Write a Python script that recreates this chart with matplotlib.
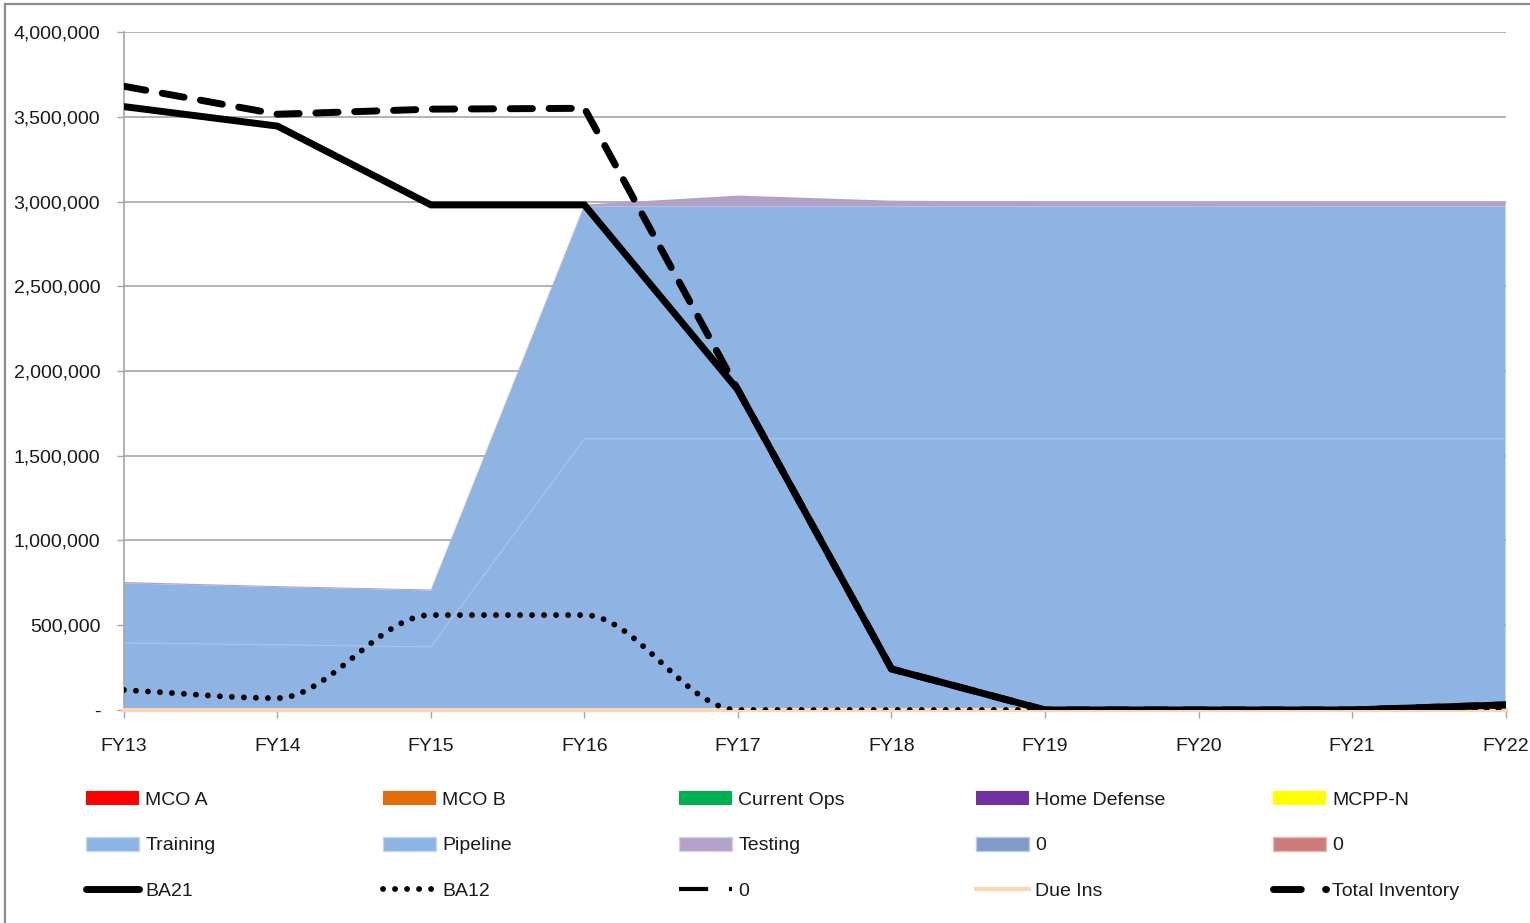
import numpy as np
import matplotlib.pyplot as plt
from matplotlib.path import Path
from matplotlib.patches import PathPatch, Patch
from matplotlib.lines import Line2D
from matplotlib.ticker import FuncFormatter, MultipleLocator

plt.rcParams['font.family'] = ['Liberation Sans', 'DejaVu Sans']

# Data
years = ['FY13', 'FY14', 'FY15', 'FY16', 'FY17', 'FY18', 'FY19', 'FY20', 'FY21', 'FY22']
mco_a = [0, 0, 0, 0, 0, 0, 0, 0, 0, 0]
mco_b = [0, 0, 0, 0, 0, 0, 0, 0, 0, 0]
current_ops = [0, 0, 0, 0, 0, 0, 0, 0, 0, 0]
home_defense = [0, 0, 0, 0, 0, 0, 0, 0, 0, 0]
mcpp_n = [0, 0, 0, 0, 0, 0, 0, 0, 0, 0]
training = [395000, 385000, 372000, 1600000, 1600000, 1600000, 1600000, 1600000, 1600000, 1600000]
pipeline = [352000, 340000, 333000, 1370000, 1370000, 1370000, 1370000, 1370000, 1370000, 1370000]
testing = [8000, 6000, 6000, 12000, 65000, 35000, 30000, 27000, 25000, 25000]
zero_a = [0, 0, 0, 0, 0, 0, 0, 0, 0, 0]
zero_b = [0, 0, 0, 0, 0, 0, 0, 0, 0, 0]
ba21 = [3560000, 3445000, 2980000, 2980000, 1888000, 242000, 0, 0, 0, 30000]
ba12 = [118000, 70000, 560000, 560000, 0, 0, 0, 0, 0, 0]
zero_line = [np.nan] * 10
due_ins = [0, 0, 0, 0, 0, 0, 0, 0, 0, 0]
total_inventory = [3680000, 3515000, 3545000, 3550000, 1888000, 242000, 0, 0, 0, 30000]

area_colors = ['#FF0000', '#E46C0A', '#00B050', '#7030A0', '#FFFF00',
               '#8EB4E3', '#8EB4E3', '#B3A2C7', '#7F9BC9', '#CD7B7B']


def smooth_path(xs, ys):
    # smoothed line as cubic bezier segments, flat at local extremes
    n = len(xs)
    slopes = np.diff(ys) / np.diff(xs)
    tang = np.zeros(n)
    tang[0] = slopes[0]
    tang[-1] = slopes[-1]
    for i in range(1, n - 1):
        if slopes[i - 1] * slopes[i] > 0:
            tang[i] = (slopes[i - 1] + slopes[i]) / 2
    verts = [(xs[0], ys[0])]
    codes = [Path.MOVETO]
    for i in range(n - 1):
        h = (xs[i + 1] - xs[i]) / 3
        verts += [(xs[i] + h, ys[i] + tang[i] * h),
                  (xs[i + 1] - h, ys[i + 1] - tang[i + 1] * h),
                  (xs[i + 1], ys[i + 1])]
        codes += [Path.CURVE4] * 3
    return Path(verts, codes)


x = np.arange(len(years))

fig = plt.figure(figsize=(15.3, 9.23), dpi=100)
ax = fig.add_axes([0.081, 0.2308, 0.903, 0.7345])

ax.stackplot(x, mco_a, mco_b, current_ops, home_defense, mcpp_n,
             training, pipeline, testing, zero_a, zero_b,
             colors=area_colors, linewidth=0, zorder=2)
# faint edge on top of training
ax.plot(x, training, color='#A8C6EC', lw=0.8, zorder=2.1)

ax.plot(x, due_ins, color='#FCD5B5', lw=3, zorder=2.6, clip_on=False)
ax.plot(x, zero_line, color='black', lw=3, linestyle='-.', zorder=3)

ax.add_patch(PathPatch(smooth_path(x.astype(float), np.array(ba12, float)),
                       facecolor='none', edgecolor='black', lw=4.2,
                       linestyle=(0, (0.01, 2.05)), capstyle='round', zorder=4))

ax.plot(x, total_inventory, color='black', lw=5, linestyle=(0, (3.2, 2.4)),
        dash_capstyle='round', zorder=4)
ax.plot(x, ba21, color='black', lw=5, solid_joinstyle='miter', zorder=5)

ax.set_xlim(0, 9)
ax.set_ylim(0, 4000000)
ax.yaxis.set_major_locator(MultipleLocator(500000))
ax.yaxis.set_major_formatter(FuncFormatter(lambda v, p: '-' if v == 0 else f'{v:,.0f}'))
ax.set_xticks(x)
ax.set_xticklabels(years)
ax.grid(axis='y', color='#A6A6A6', lw=1.2, zorder=0.5)
ax.set_axisbelow(True)
for s in ['top', 'right']:
    ax.spines[s].set_visible(False)
for s in ['left', 'bottom']:
    ax.spines[s].set_color('#A6A6A6')
    ax.spines[s].set_linewidth(1.2)
ax.tick_params(axis='y', length=5, width=1, color='#A6A6A6', pad=12,
               labelsize=14, labelcolor='#1a1a1a')
ax.tick_params(axis='x', length=6, width=1, color='#A6A6A6', pad=14.5,
               labelsize=14, labelcolor='#1a1a1a')

# chart border
fig.add_artist(Line2D([5 / 1530, 5 / 1530], [0, 1 - 4 / 923], transform=fig.transFigure,
                      color='#8C8C8C', lw=1.6))
fig.add_artist(Line2D([5 / 1530, 1], [1 - 4 / 923, 1 - 4 / 923], transform=fig.transFigure,
                      color='#8C8C8C', lw=1.6))

# legend, one block per column
columns = [
    [Patch(facecolor=area_colors[0], label='MCO A'),
     Patch(facecolor=area_colors[5], edgecolor='#C6D9F1', label='Training'),
     Line2D([], [], color='black', lw=5, solid_capstyle='round', label='BA21')],
    [Patch(facecolor=area_colors[1], label='MCO B'),
     Patch(facecolor=area_colors[6], edgecolor='#C6D9F1', label='Pipeline'),
     Line2D([], [], color='black', lw=4.2, linestyle=(0, (0.01, 2.05)),
            dash_capstyle='round', label='BA12')],
    [Patch(facecolor=area_colors[2], label='Current Ops'),
     Patch(facecolor=area_colors[7], edgecolor='#D9D0E6', label='Testing'),
     Line2D([], [], color='black', lw=3, linestyle=(0, (7, 5, 1, 4)), label='0')],
    [Patch(facecolor=area_colors[3], label='Home Defense'),
     Patch(facecolor=area_colors[8], edgecolor='#B9CDE5', label='0'),
     Line2D([], [], color='#FCD5B5', lw=3, label='Due Ins')],
    [Patch(facecolor=area_colors[4], label='MCPP-N'),
     Patch(facecolor=area_colors[9], edgecolor='#E6B9B8', label='0'),
     Line2D([], [], color='black', lw=5, linestyle=(0, (4, 3.5)),
            dash_capstyle='round', label='Total Inventory')],
]
col_x = [86, 383, 679, 976, 1273]
for cx, handles in zip(col_x, columns):
    fig.legend(handles=handles, loc='upper left',
               bbox_to_anchor=(cx / 1530, 1 - 791 / 923),
               frameon=False, fontsize=14, borderpad=0, borderaxespad=0,
               handlelength=2.75, handleheight=0.75, handletextpad=0.3,
               labelspacing=1.42, labelcolor='#1a1a1a')

fig.savefig('out.png', dpi=100)
